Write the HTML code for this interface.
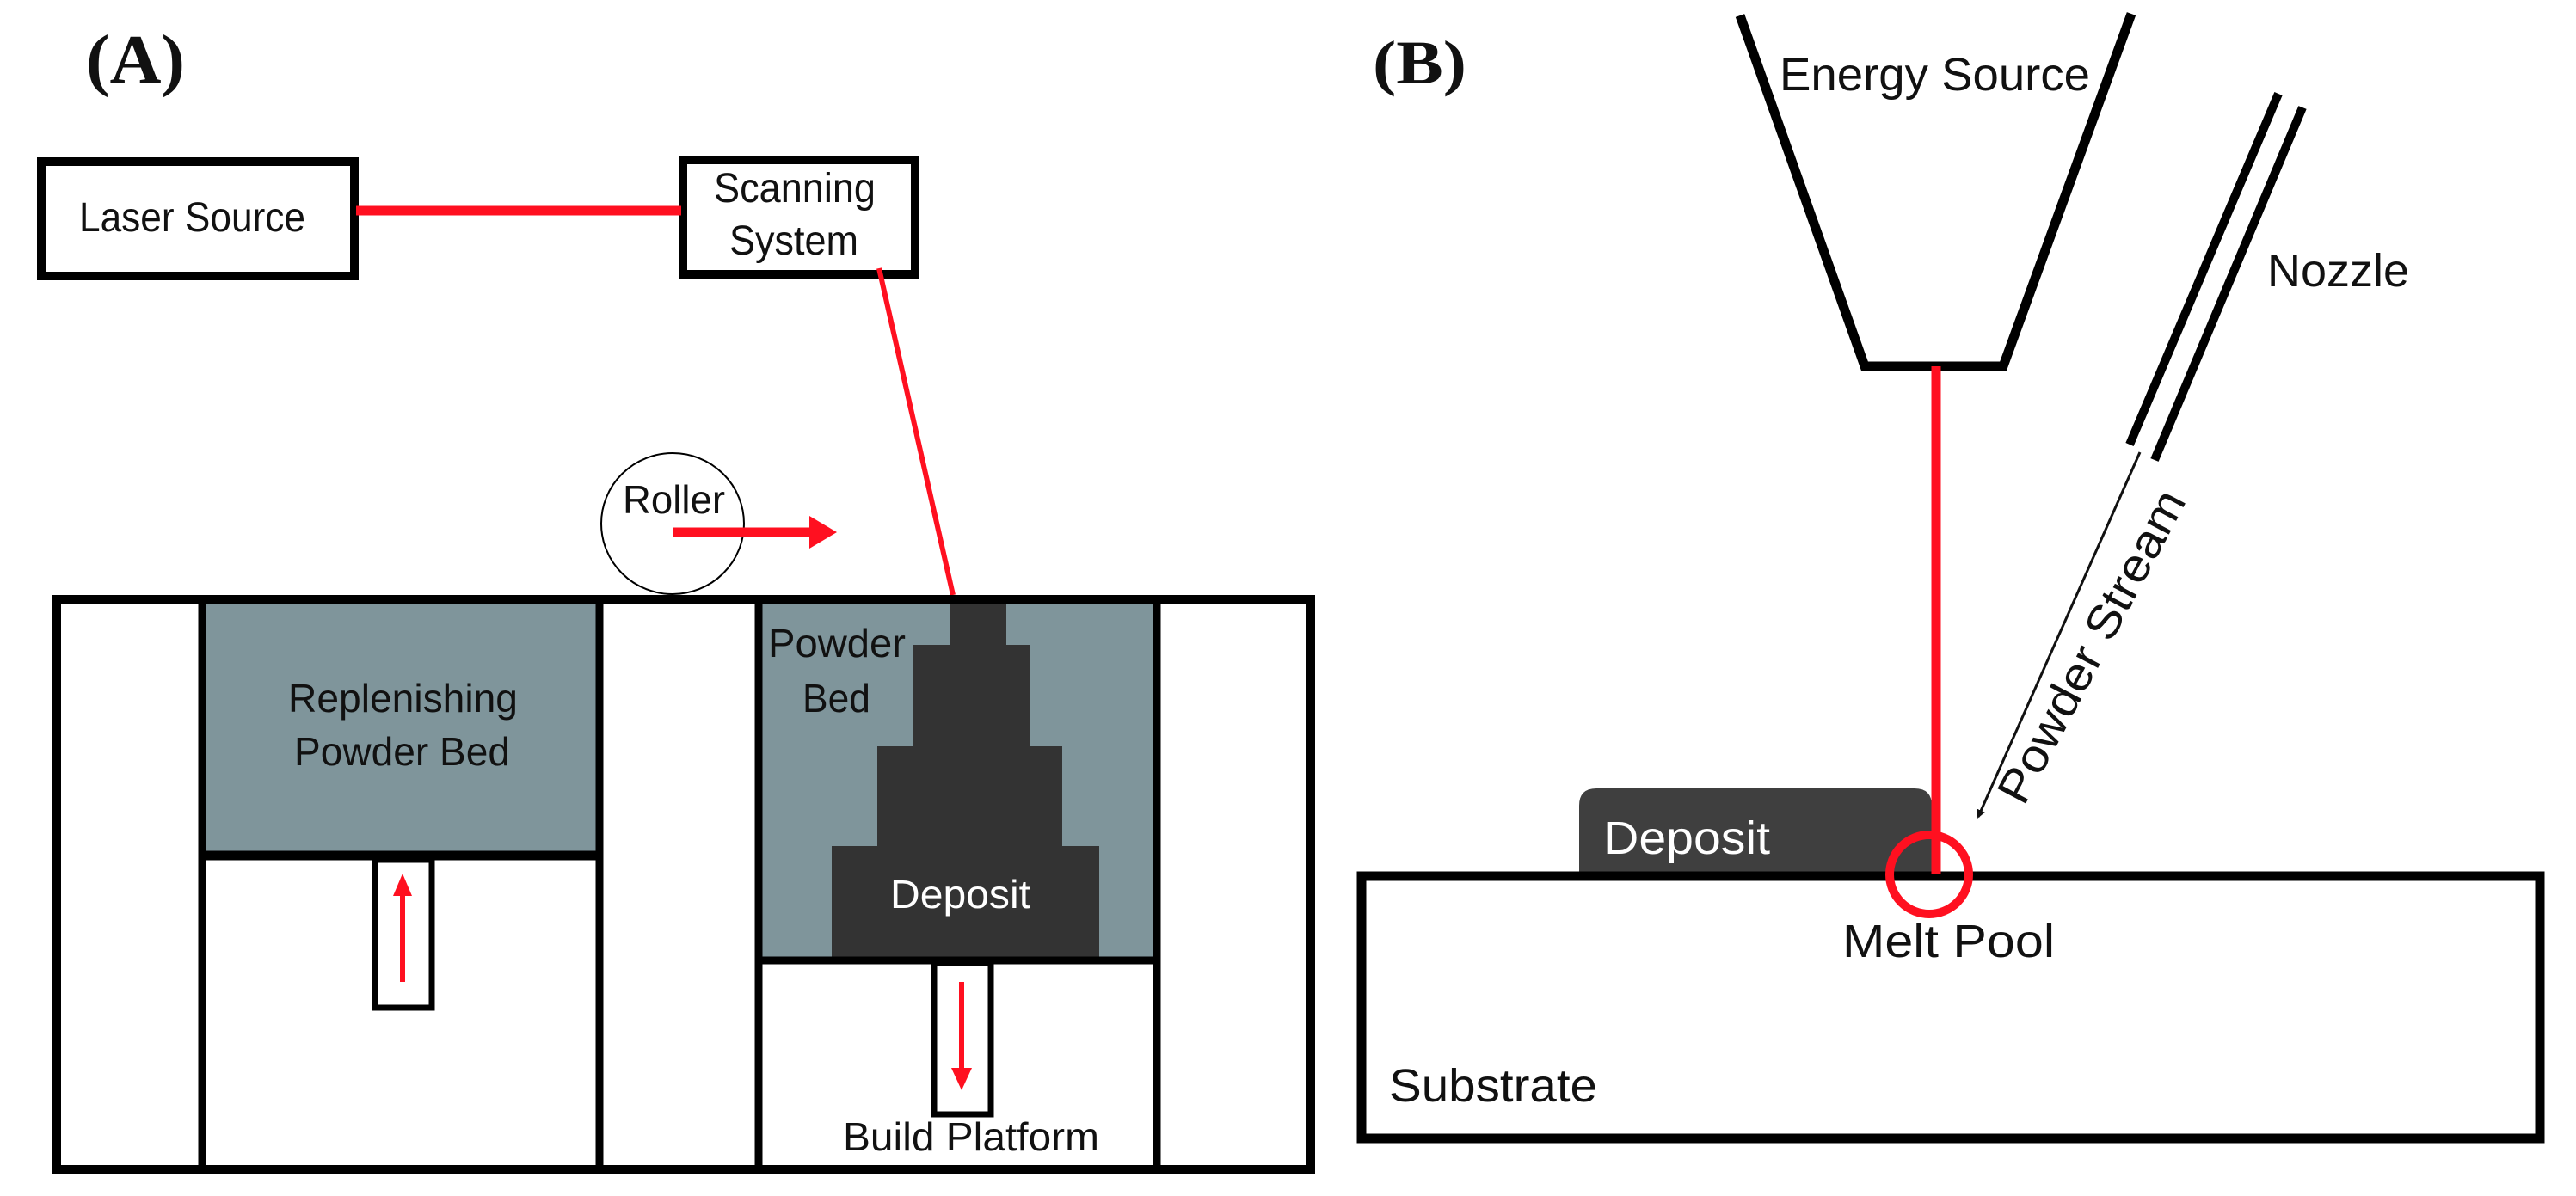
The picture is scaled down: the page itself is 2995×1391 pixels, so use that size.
<!DOCTYPE html>
<html><head><meta charset="utf-8"><style>
html,body{margin:0;padding:0;background:#fff;}
svg{display:block;}
text{font-family:"Liberation Sans",sans-serif;fill:#111;}
</style></head><body>
<svg width="2995" height="1391" viewBox="0 0 2995 1391" xmlns="http://www.w3.org/2000/svg">
<defs>
<marker id="ah" markerWidth="10" markerHeight="10" refX="8" refY="5" orient="auto" markerUnits="userSpaceOnUse">
<path d="M0,0 L10,5 L0,10 Z" fill="#111"/>
</marker>
</defs>
<!-- Panel A -->
<text x="100" y="96" font-weight="bold" font-size="80" textLength="115" lengthAdjust="spacingAndGlyphs" style="font-family:'Liberation Serif',serif">(A)</text>

<rect x="48" y="188" width="364" height="133" fill="#fff" stroke="#000" stroke-width="10"/>
<text x="92" y="269" font-size="48" textLength="263" lengthAdjust="spacingAndGlyphs">Laser Source</text>
<rect x="794" y="186" width="270" height="133" fill="#fff" stroke="#000" stroke-width="10"/>
<text x="830" y="235" font-size="48" textLength="188" lengthAdjust="spacingAndGlyphs">Scanning</text>
<text x="848" y="296" font-size="48" textLength="150" lengthAdjust="spacingAndGlyphs">System</text>
<line x1="414" y1="245" x2="792" y2="245" stroke="#ff1020" stroke-width="11"/>
<line x1="1022" y1="312" x2="1108" y2="692" stroke="#ff1020" stroke-width="6"/>

<ellipse cx="782" cy="609" rx="83" ry="82" fill="#fff" stroke="#000" stroke-width="2"/>
<text x="724" y="597" font-size="46" textLength="119" lengthAdjust="spacingAndGlyphs">Roller</text>
<line x1="783" y1="619" x2="945" y2="619" stroke="#ff1020" stroke-width="11"/>
<polygon points="941,600 973,619 941,638" fill="#ff1020"/>

<!-- main box A -->
<rect x="235" y="700" width="462" height="290" fill="#7f959b"/>
<rect x="882" y="700" width="463" height="413" fill="#7f959b"/>
<polygon points="1105,700 1170,700 1170,750 1198,750 1198,868 1235,868 1235,984 1278,984 1278,1113 967,1113 967,984 1020,984 1020,868 1062,868 1062,750 1105,750" fill="#333"/>
<text x="1035" y="1056" font-size="46" textLength="163" lengthAdjust="spacingAndGlyphs" style="fill:#fff">Deposit</text>
<text x="335" y="828" font-size="46" textLength="267" lengthAdjust="spacingAndGlyphs">Replenishing</text>
<text x="342" y="890" font-size="46" textLength="251" lengthAdjust="spacingAndGlyphs">Powder Bed</text>
<text x="893" y="764" font-size="46" textLength="160" lengthAdjust="spacingAndGlyphs">Powder</text>
<text x="933" y="828" font-size="46" textLength="79" lengthAdjust="spacingAndGlyphs">Bed</text>

<g stroke="#000" fill="none">
<rect x="66" y="697" width="1458" height="663" stroke-width="10"/>
<line x1="235" y1="696" x2="235" y2="1360" stroke-width="9"/>
<line x1="697" y1="696" x2="697" y2="1360" stroke-width="9"/>
<line x1="882" y1="696" x2="882" y2="1360" stroke-width="9"/>
<line x1="1345" y1="696" x2="1345" y2="1360" stroke-width="9"/>
<line x1="235" y1="995" x2="697" y2="995" stroke-width="11"/>
<line x1="882" y1="1117" x2="1345" y2="1117" stroke-width="9"/>
<rect x="436" y="1000" width="66" height="172" stroke-width="7" fill="#fff"/>
<rect x="1086" y="1120" width="66" height="176" stroke-width="7" fill="#fff"/>
</g>
<line x1="468" y1="1142" x2="468" y2="1040" stroke="#ff1020" stroke-width="6"/>
<polygon points="457,1042 468,1016 479,1042" fill="#ff1020"/>
<line x1="1118" y1="1142" x2="1118" y2="1244" stroke="#ff1020" stroke-width="6"/>
<polygon points="1106,1242 1118,1268 1130,1242" fill="#ff1020"/>
<text x="980" y="1338" font-size="46" textLength="298" lengthAdjust="spacingAndGlyphs">Build Platform</text>

<!-- Panel B -->
<text x="1596" y="97" font-weight="bold" font-size="72" textLength="109" lengthAdjust="spacingAndGlyphs" style="font-family:'Liberation Serif',serif">(B)</text>
<polyline points="2023,18 2168,426 2329,426 2478,16" fill="none" stroke="#000" stroke-width="11"/>
<text x="2069" y="105" font-size="54" textLength="361" lengthAdjust="spacingAndGlyphs">Energy Source</text>
<line x1="2649" y1="109" x2="2476" y2="517" stroke="#000" stroke-width="10"/>
<line x1="2677" y1="125" x2="2505" y2="535" stroke="#000" stroke-width="10"/>
<text x="2636" y="333" font-size="54" textLength="165" lengthAdjust="spacingAndGlyphs">Nozzle</text>
<line x1="2488" y1="526" x2="2300" y2="950" stroke="#111" stroke-width="3" marker-end="url(#ah)"/>
<text x="2432" y="752" font-size="54" text-anchor="middle" textLength="404" lengthAdjust="spacingAndGlyphs" transform="rotate(-62 2432 752) translate(0 18)">Powder Stream</text>

<path d="M1836,1017 L1836,937 Q1836,917 1856,917 L2226,917 Q2246,917 2246,937 L2246,1017 Z" fill="#3f3f3f"/>
<text x="1864" y="993" font-size="54" textLength="194" lengthAdjust="spacingAndGlyphs" style="fill:#fff">Deposit</text>
<rect x="1583" y="1019" width="1370" height="305" fill="none" stroke="#000" stroke-width="11"/>
<line x1="2251" y1="426" x2="2251" y2="1017" stroke="#ff1020" stroke-width="11"/>
<circle cx="2243" cy="1017" r="46" fill="none" stroke="#ff1020" stroke-width="10"/>
<text x="2142" y="1113" font-size="54" textLength="247" lengthAdjust="spacingAndGlyphs">Melt Pool</text>
<text x="1615" y="1281" font-size="54" textLength="242" lengthAdjust="spacingAndGlyphs">Substrate</text>
</svg>
</body></html>
